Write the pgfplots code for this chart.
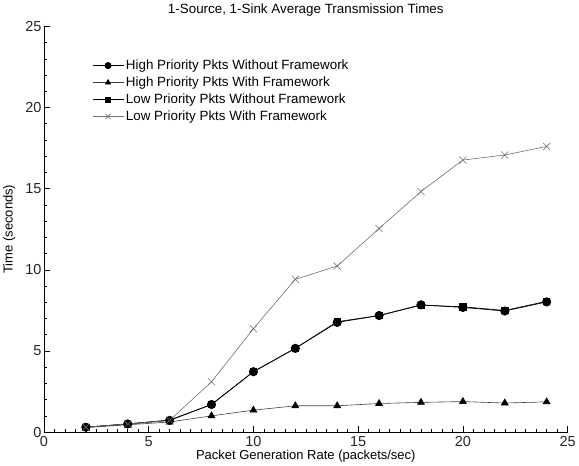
\documentclass[border=0pt]{standalone}
\usepackage{pgfplots}
\pgfplotsset{compat=1.18}
\usepackage{fontspec}
\setmainfont{Liberation Sans}

\definecolor{crossgray}{HTML}{707070}
\definecolor{trigray}{HTML}{404040}

\begin{document}
\begin{tikzpicture}
\begin{axis}[
  scale only axis,
  width=524pt, height=406pt,
  xmin=0, xmax=25, ymin=0, ymax=25,
  axis lines*=left,
  axis line style={black, line width=0.6pt},
  xtick={0,5,...,25}, ytick={0,5,...,25},
  minor x tick num=9, minor y tick num=4,
  tick align=inside,
  major tick length=6pt, minor tick length=3pt,
  tick style={black, line width=0.5pt},
  /pgf/number format/assume math mode=true,
  tick label style={font=\fontsize{14.5}{16}\selectfont, text=black!85},
  xticklabel style={yshift=-1pt},
  yticklabel style={xshift=1pt},
  title={1-Source, 1-Sink Average Transmission Times},
  title style={font=\fontsize{13.4}{15}\selectfont, yshift=1pt},
  xlabel={Packet Generation Rate (packets/sec)},
  ylabel={Time (seconds)},
  label style={font=\fontsize{13}{15}\selectfont},
  xlabel style={yshift=4pt},
  ylabel style={yshift=3pt},
  legend style={draw=none, fill=none, at={(0.09,0.925)}, anchor=north west,
    font=\fontsize{13.4}{15}\selectfont, row sep=1.8pt, inner sep=1pt},
  legend cell align=left,
  legend image code/.code={%
    \draw[mark repeat=2, mark phase=2, #1, every mark/.append style={scale=0.75}]
      plot coordinates {(0pt,0pt) (15.5pt,0pt) (31pt,0pt)};},
]
\addplot[black, line width=0.7pt, mark=*, mark size=4.2pt] coordinates {
  (2,0.30) (4,0.50) (6,0.72) (8,1.70) (10,3.72) (12,5.16)
  (14,6.76) (16,7.18) (18,7.84) (20,7.68) (22,7.46) (24,8.02)};
\addlegendentry{High Priority Pkts Without Framework}
\addplot[trigray, line width=0.6pt, mark=triangle*, mark size=4pt,
  mark options={fill=black, draw=black}] coordinates {
  (2,0.28) (4,0.45) (6,0.62) (8,1.00) (10,1.35) (12,1.62)
  (14,1.62) (16,1.76) (18,1.83) (20,1.88) (22,1.79) (24,1.86)};
\addlegendentry{High Priority Pkts With Framework}
\addplot[black, line width=0.7pt, mark=square*, mark size=3.1pt] coordinates {
  (2,0.30) (4,0.50) (6,0.74) (8,1.70) (10,3.72) (12,5.16)
  (14,6.80) (16,7.18) (18,7.82) (20,7.72) (22,7.49) (24,8.06)};
\addlegendentry{Low Priority Pkts Without Framework}
\addplot[crossgray, line width=0.6pt, mark=x, mark size=5pt] coordinates {
  (2,0.30) (4,0.50) (6,0.72) (8,3.10) (10,6.37) (12,9.41)
  (14,10.23) (16,12.54) (18,14.82) (20,16.76) (22,17.07) (24,17.60)};
\addlegendentry{Low Priority Pkts With Framework}
\end{axis}
\end{tikzpicture}
\end{document}
